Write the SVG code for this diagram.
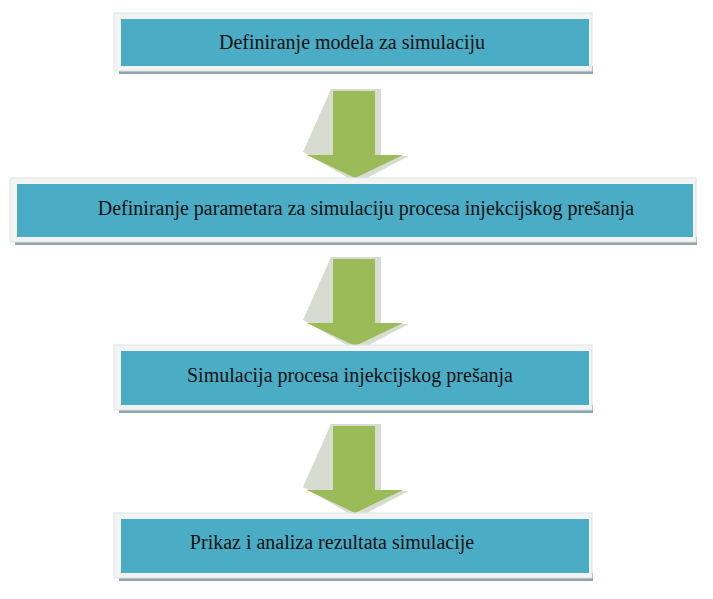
<svg xmlns="http://www.w3.org/2000/svg" width="713" height="599" viewBox="0 0 713 599">
<defs>
<style>
.frame{fill:#f2f4f4;stroke:#dde3e4;stroke-width:1}
.shadow{fill:#8fa5ad}
.box{fill:#4bacc6}
.t{font-family:"Liberation Serif",serif;font-size:20px;fill:#111;text-anchor:middle}
.ar{fill:#9bbb59}
.arb{fill:#d8dcd0}
</style>
</defs>
<rect width="713" height="599" fill="#fff"/>
<g id="connectors">
<g transform="translate(355,0)">
<path class="arb" d="M-24,89 H26 V156 H54 L2,183 L-52,152 Z"/>
<path class="ar" d="M-22,91 H20 V155 H48 L0,178 L-48,155 H-22 Z"/>
</g>
<g transform="translate(355,168)">
<path class="arb" d="M-24,89 H26 V156 H54 L2,183 L-52,152 Z"/>
<path class="ar" d="M-22,91 H20 V155 H48 L0,178 L-48,155 H-22 Z"/>
</g>
<g transform="translate(355,335)">
<path class="arb" d="M-24,89 H26 V156 H54 L2,183 L-52,152 Z"/>
<path class="ar" d="M-22,91 H20 V155 H48 L0,178 L-48,155 H-22 Z"/>
</g>
</g>
<g id="n1">
<rect class="shadow" x="119" y="66" width="474" height="8"/>
<rect class="frame" x="114" y="13" width="478" height="58"/>
<rect class="box" x="121" y="19" width="468" height="47"/>
<text class="t" x="352" y="49">Definiranje modela za simulaciju</text>
</g>
<g id="n2">
<rect class="shadow" x="15" y="237" width="682" height="8"/>
<rect class="frame" x="10" y="178" width="686" height="64"/>
<rect class="box" x="17" y="184" width="676" height="53"/>
<text class="t" x="366" y="215">Definiranje parametara za simulaciju  procesa injekcijskog prešanja</text>
</g>
<g id="n3">
<rect class="shadow" x="119" y="405" width="474" height="8"/>
<rect class="frame" x="114" y="345" width="478" height="65"/>
<rect class="box" x="121" y="351" width="468" height="54"/>
<text class="t" x="350" y="382">Simulacija procesa injekcijskog prešanja</text>
</g>
<g id="n4">
<rect class="shadow" x="119" y="573" width="474" height="8"/>
<rect class="frame" x="114" y="513" width="478" height="65"/>
<rect class="box" x="121" y="519" width="468" height="54"/>
<text class="t" x="332" y="549">Prikaz i analiza rezultata simulacije</text>
</g>
</svg>
